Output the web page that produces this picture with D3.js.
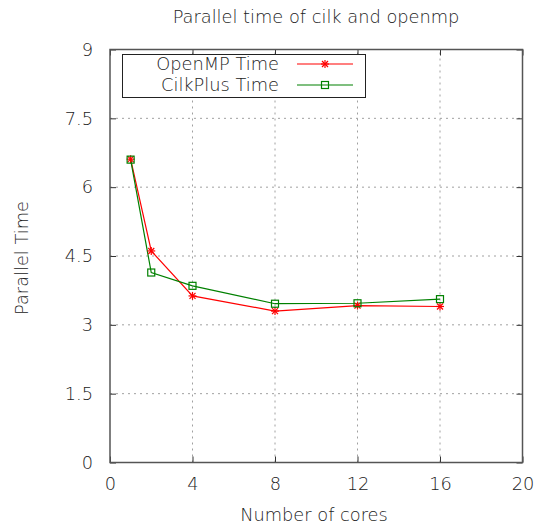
<!DOCTYPE html>
<html><head><meta charset="utf-8">
<script src="https://cdn.jsdelivr.net/npm/d3@7"></script>
<style>body{margin:0;background:#fff}svg{display:block}text{font-family:"DejaVu Sans",sans-serif;font-weight:200;fill:#222}</style>
</head><body>
<script>
const cores = [1, 2, 4, 8, 12, 16];
const openmpTime = [6.61, 4.61, 3.63, 3.30, 3.42, 3.40];
const cilkTime = [6.60, 4.14, 3.85, 3.46, 3.47, 3.56];
const xTicks = [0, 4, 8, 12, 16, 20];
const yTicks = [0, 1.5, 3, 4.5, 6, 7.5, 9];
const yTickLabels = ["0", "1.5", "3", "4.5", "6", "7.5", "9"];

const W = 537, H = 531, FS = 17.8;
const m = {l: 110, r: 537 - 522.5, t: 49.5, b: 531 - 462.5};
const svg = d3.select("body").append("svg").attr("width", W).attr("height", H);
const x = d3.scaleLinear().domain([0, 20]).range([m.l, W - m.r]);
const y = d3.scaleLinear().domain([0, 9]).range([H - m.b, m.t]);

// grid
const g = svg.append("g");
g.selectAll("line.gx").data(xTicks.slice(1, -1)).join("line")
  .attr("x1", d => x(d)).attr("x2", d => x(d)).attr("y1", y(0)).attr("y2", y(9))
  .attr("stroke", "#a0a0a0").attr("stroke-width", 1).attr("stroke-dasharray", "2,4");
g.selectAll("line.gy").data(yTicks.slice(1, -1)).join("line")
  .attr("y1", d => y(d)).attr("y2", d => y(d)).attr("x1", x(0)).attr("x2", x(20))
  .attr("stroke", "#a0a0a0").attr("stroke-width", 1).attr("stroke-dasharray", "2,4");

// axes with inward ticks
const tl = 6;
svg.append("g").attr("transform", `translate(0,${y(0)})`)
  .call(d3.axisBottom(x).tickValues(xTicks).tickSize(-tl).tickPadding(15))
  .call(a => { a.select(".domain").remove(); a.selectAll("text").attr("font-size", FS).attr("fill", "#222"); a.selectAll("line").attr("stroke", "#333"); });
svg.append("g").attr("transform", `translate(0,${y(9)})`)
  .call(d3.axisTop(x).tickValues(xTicks).tickSize(-tl).tickFormat(""))
  .call(a => { a.select(".domain").remove(); a.selectAll("line").attr("stroke", "#333"); });
svg.append("g").attr("transform", `translate(${x(0)},0)`)
  .call(d3.axisLeft(y).tickValues(yTicks).tickSize(-tl).tickPadding(17).tickFormat((d, i) => yTickLabels[i]))
  .call(a => { a.select(".domain").remove(); a.selectAll("text").attr("font-size", FS).attr("fill", "#222"); a.selectAll("line").attr("stroke", "#333"); });
svg.append("g").attr("transform", `translate(${x(20)},0)`)
  .call(d3.axisRight(y).tickValues(yTicks).tickSize(-tl).tickFormat(""))
  .call(a => { a.select(".domain").remove(); a.selectAll("line").attr("stroke", "#333"); });
svg.selectAll(".tick text").attr("font-family", null);

svg.append("rect").attr("x", x(0)).attr("y", y(9)).attr("width", x(20) - x(0)).attr("height", y(0) - y(9))
  .attr("fill", "none").attr("stroke", "#555").attr("stroke-width", 1.5);

// lines
const line = d3.line().x(d => x(d[0])).y(d => y(d[1]));
const omp = cores.map((c, i) => [c, openmpTime[i]]);
const cilk = cores.map((c, i) => [c, cilkTime[i]]);

function star(sel, cx, cy, col) {
  const r = 4;
  const gg = sel.append("g").attr("stroke", col).attr("stroke-width", 1.2);
  gg.append("line").attr("x1", cx - r).attr("x2", cx + r).attr("y1", cy).attr("y2", cy);
  gg.append("line").attr("x1", cx).attr("x2", cx).attr("y1", cy - r).attr("y2", cy + r);
  gg.append("line").attr("x1", cx - r * 0.75).attr("x2", cx + r * 0.75).attr("y1", cy - r * 0.75).attr("y2", cy + r * 0.75);
  gg.append("line").attr("x1", cx - r * 0.75).attr("x2", cx + r * 0.75).attr("y1", cy + r * 0.75).attr("y2", cy - r * 0.75);
}
function square(sel, cx, cy, col) {
  sel.append("rect").attr("x", cx - 3.5).attr("y", cy - 3.5).attr("width", 7).attr("height", 7)
    .attr("fill", "none").attr("stroke", col).attr("stroke-width", 1.2);
}

svg.append("path").datum(omp).attr("d", line).attr("fill", "none").attr("stroke", "#ff0000").attr("stroke-width", 1.2);
svg.append("path").datum(cilk).attr("d", line).attr("fill", "none").attr("stroke", "#008000").attr("stroke-width", 1.2);
omp.forEach(d => star(svg, x(d[0]), y(d[1]), "#ff0000"));
cilk.forEach(d => square(svg, x(d[0]), y(d[1]), "#008000"));

// legend
const lg = svg.append("g");
lg.append("rect").attr("x", 122.5).attr("y", 54.5).attr("width", 243).attr("height", 43)
  .attr("fill", "#fff").attr("stroke", "#222").attr("stroke-width", 1);
const rows = [["OpenMP Time", "#ff0000", star, 64], ["CilkPlus Time", "#008000", square, 85]];
rows.forEach(([t, c, mk, yy]) => {
  lg.append("text").attr("x", 279).attr("y", yy).attr("dy", "0.35em").attr("text-anchor", "end").attr("font-size", FS).text(t);
  lg.append("line").attr("x1", 297).attr("x2", 353).attr("y1", yy).attr("y2", yy).attr("stroke", c).attr("stroke-width", 1.2);
  mk(lg, 325, yy, c);
});

// titles
svg.append("text").attr("x", 316).attr("y", 23).attr("text-anchor", "middle").attr("font-size", FS).text("Parallel time of cilk and openmp");
svg.append("text").attr("x", 314).attr("y", 521).attr("text-anchor", "middle").attr("font-size", FS).text("Number of cores");
svg.append("text").attr("transform", "translate(28,258) rotate(-90)").attr("text-anchor", "middle").attr("font-size", FS).text("Parallel Time");
</script>
</body></html>
